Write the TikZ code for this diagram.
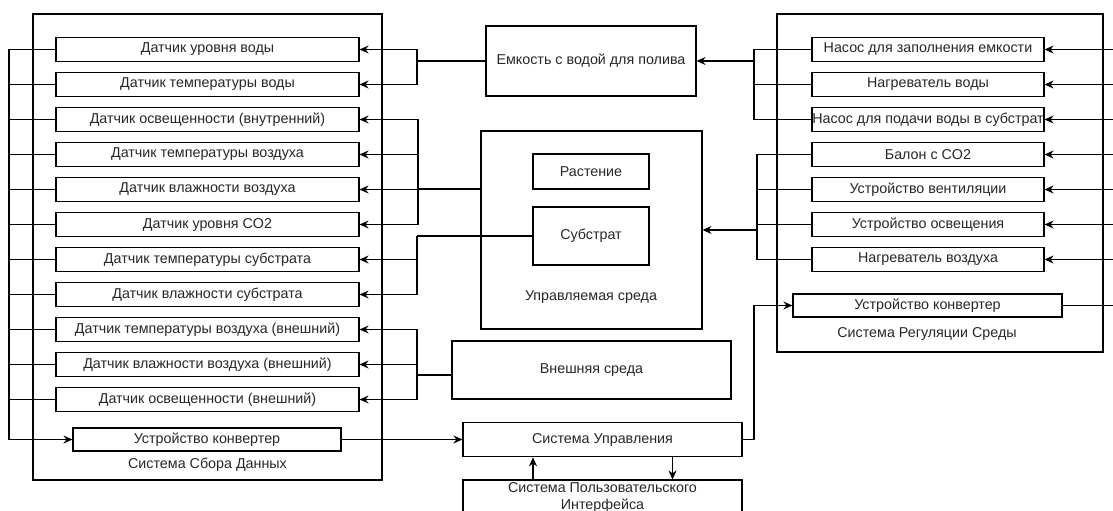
\documentclass[tikz,border=0pt]{standalone}
\usepackage{fontspec}
\setmainfont{Liberation Sans}
\usetikzlibrary{arrows.meta}
\begin{document}
\begin{tikzpicture}[x=1pt,y=-1pt,
  box/.style={draw, line width=1.1pt, inner sep=0pt, font=\fontsize{14.3}{17}\selectfont, text=black!85},
  lbl/.style={inner sep=0pt, font=\fontsize{14.3}{17}\selectfont, text=black!85},
  con/.style={line width=1.1pt},
  arr/.style={line width=1.1pt, -{Stealth[length=9pt,width=8pt]}}]
\useasboundingbox (0,0) rectangle (1113,511);
\clip (0,0) rectangle (1113,511);
% containers
\node[box, minimum width=349pt, minimum height=466pt] (leftC) at (207.5,247) {};
\node[box, minimum width=326pt, minimum height=338pt] (rightC) at (940,183) {};
\node[box, minimum width=221pt, minimum height=198pt] (env) at (591.5,230) {};
\node[lbl] (leftLbl) at (207.5,465) {Система Сбора Данных};
\node[lbl] (rightLbl) at (927,334) {Система Регуляции Среды};
\node[lbl] (envLbl) at (591,297) {Управляемая среда};
% sensors
\foreach \i/\t in {1/{Датчик уровня воды},2/{Датчик температуры воды},3/{Датчик освещенности (внутренний)},4/{Датчик температуры воздуха},5/{Датчик влажности воздуха},6/{Датчик уровня CO2},7/{Датчик температуры субстрата},8/{Датчик влажности субстрата},9/{Датчик температуры воздуха (внешний)},10/{Датчик влажности воздуха (внешний)},11/{Датчик освещенности (внешний)}}
  \node[box, minimum width=303pt, minimum height=23.5pt] (s\i) at (207.5,{49.5+35*(\i-1)}) {\t};
\node[box, minimum width=268pt, minimum height=23pt] (convL) at (207,439.5) {Устройство конвертер};
% actuators
\foreach \i/\t in {1/{Насос для заполнения емкости},2/{Нагреватель воды},3/{Насос для подачи воды в субстрат},4/{Балон с CO2},5/{Устройство вентиляции},6/{Устройство освещения},7/{Нагреватель воздуха}}
  \node[box, minimum width=232pt, minimum height=23.5pt] (a\i) at (928,{49.5+35*(\i-1)}) {\t};
\node[box, minimum width=269pt, minimum height=23pt] (convR) at (927.5,305.5) {Устройство конвертер};
% middle
\node[box, minimum width=210pt, minimum height=70pt] (tank) at (591,61) {Емкость с водой для полива};
\node[box, minimum width=116pt, minimum height=35pt] (plant) at (591,171.5) {Растение};
\node[box, minimum width=116pt, minimum height=58pt] (subs) at (591,236) {Субстрат};
\node[box, minimum width=279pt, minimum height=58pt] (ext) at (591.5,370) {Внешняя среда};
\node[box, minimum width=279pt, minimum height=34.5pt] (ctrl) at (602.5,439.5) {Система Управления};
\node[box, minimum width=279pt, minimum height=35pt, align=center] (ui) at (602.5,497.5) {Система Пользовательского\\Интерфейса};
% left bus
\coordinate (lb) at (9,49.5);
\foreach \i in {2,...,11} \draw[con] (s\i.west) -- (s\i.west -| lb);
\draw[arr] (s1.west) -- (lb) |- (convL.west);
% sensor inputs
\coordinate (j1) at (417,61);
\coordinate (j2) at (418,189);
\coordinate (j3) at (417,236);
\coordinate (j4) at (417,375);
\draw[con] (tank.west) -- (j1);
\foreach \i in {1,2} \draw[arr] (j1) |- (s\i.east);
\draw[con] (env.west |- j2) -- (j2);
\foreach \i in {3,...,6} \draw[arr] (j2) |- (s\i.east);
\draw[con] (subs.west) -- (j3);
\foreach \i in {7,8} \draw[arr] (j3) |- (s\i.east);
\draw[con] (ext.west |- j4) -- (j4);
\foreach \i in {9,10,11} \draw[arr] (j4) |- (s\i.east);
% converter to control
\draw[arr] (convL.east) -- (ctrl.west);
\draw[arr] ([xshift=-69.5pt]ui.north) -- ([xshift=-69.5pt]ctrl.south);
\draw[arr] ([xshift=70pt]ctrl.south) -- ([xshift=70pt]ui.north);
\coordinate (j7) at (754,0);
\draw[arr] (ctrl.east) -- (ctrl.east -| j7) |- (convR.west);
% right side
\coordinate (rb) at (1113,0);
\foreach \i in {1,...,7} \draw[arr] (a\i.east -| rb) -- (a\i.east);
\draw[con] (convR.east) -- (convR.east -| rb);
\coordinate (j5) at (754,61);
\coordinate (j6) at (757,230);
\draw[arr] (j5) -- (tank.east);
\foreach \i in {1,2,3} \draw[con] (a\i.west) -| (j5);
\draw[arr] (j6) -- (env.east);
\foreach \i in {4,...,7} \draw[con] (a\i.west) -| (j6);
\end{tikzpicture}
\end{document}
